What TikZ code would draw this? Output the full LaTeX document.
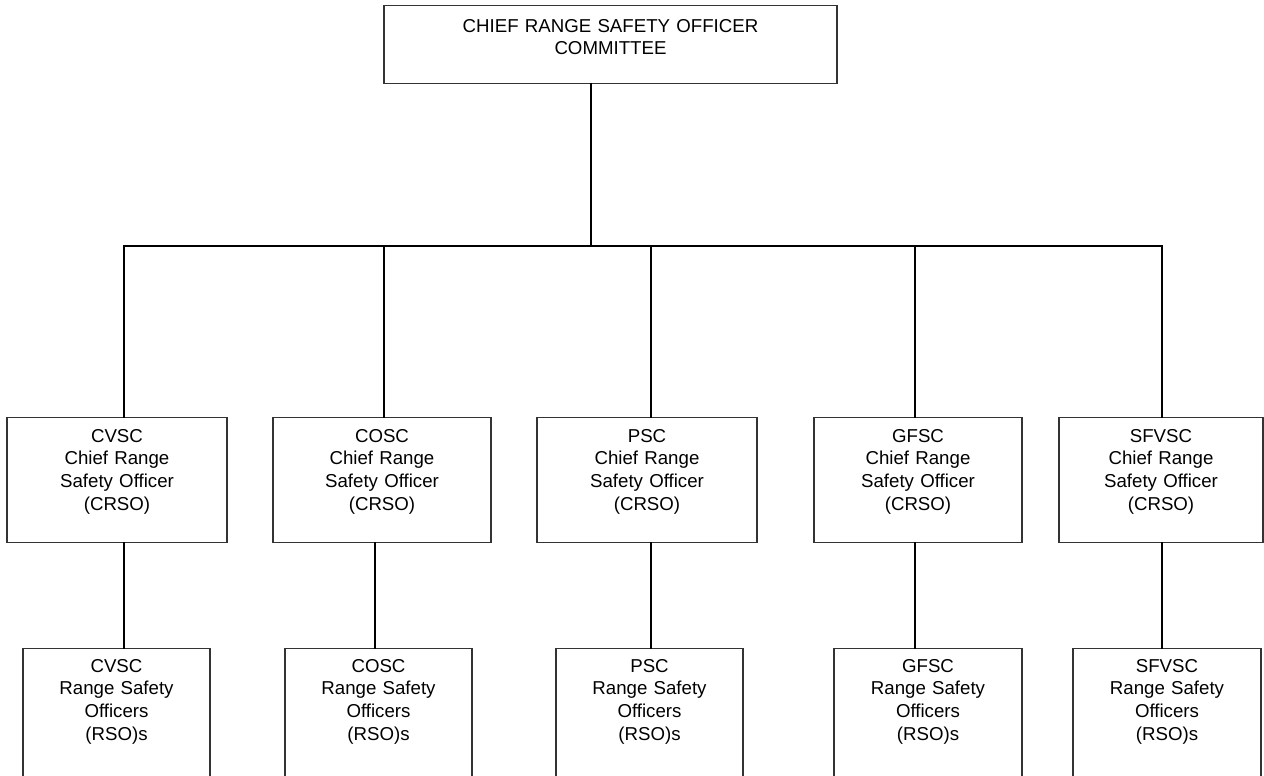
\documentclass[tikz,border=0pt]{standalone}
\usepackage{fontspec}
\setmainfont{Liberation Sans}
\tikzset{
  orgbox/.style={draw=black!80, line width=0.8pt, anchor=north, align=center, inner sep=2pt, font=\fontsize{14}{17}\selectfont},
  chiefbox/.style={orgbox, text width=320pt, minimum width=339.75pt, minimum height=58.5pt, execute at end node={\par\vspace*{11.3pt}}},
  crsobox/.style={orgbox, text width=130pt, minimum width=#1, minimum height=93.75pt, execute at end node={\par\vspace*{12.5pt}}},
  rsobox/.style={orgbox, text width=130pt, minimum width=#1, minimum height=114pt, execute at end node={\par\vspace*{34.4pt}}},
  link/.style={line width=1.5pt, line cap=rect},
}
\begin{document}
\begin{tikzpicture}[x=0.75pt, y=-0.75pt]
			%%%%% START %%%%%
			\useasboundingbox (0,0) rectangle (1264,775);
			\clip (0,0) rectangle (1264,775);
			
			\node[chiefbox] (chief) at (610.5,5) {CHIEF RANGE SAFETY OFFICER\\COMMITTEE};
			
			\node[crsobox=165pt] (crso-cvsc) at (117,417) {CVSC\\Chief Range\\Safety Officer\\(CRSO)};
			\node[crsobox=163.5pt] (crso-cosc) at (382,417) {COSC\\Chief Range\\Safety Officer\\(CRSO)};
			\node[crsobox=165pt] (crso-psc) at (647,417) {PSC\\Chief Range\\Safety Officer\\(CRSO)};
			\node[crsobox=156pt] (crso-gfsc) at (918,417) {GFSC\\Chief Range\\Safety Officer\\(CRSO)};
			\node[crsobox=153pt] (crso-sfvsc) at (1161,417) {SFVSC\\Chief Range\\Safety Officer\\(CRSO)};
			
			\node[rsobox=140.25pt] (rso-cvsc) at (116.5,648) {CVSC\\Range Safety\\Officers\\(RSO)s};
			\node[rsobox=140.25pt] (rso-cosc) at (378.5,648) {COSC\\Range Safety\\Officers\\(RSO)s};
			\node[rsobox=140.25pt] (rso-psc) at (649.5,648) {PSC\\Range Safety\\Officers\\(RSO)s};
			\node[rsobox=141pt] (rso-gfsc) at (928,648) {GFSC\\Range Safety\\Officers\\(RSO)s};
			\node[rsobox=141pt] (rso-sfvsc) at (1167,648) {SFVSC\\Range Safety\\Officers\\(RSO)s};
			
			\coordinate (trunk) at (591,246);
			\coordinate (tap1) at (124,246);
			\coordinate (tap2) at (384,246);
			\coordinate (tap3) at (651,246);
			\coordinate (tap4) at (915,246);
			\coordinate (tap5) at (1162,246);
			
			\draw[link] (chief.south -| trunk) -- (trunk);
			\draw[link] (crso-cvsc.north -| tap1) -- (tap1) -- (tap5) -- (crso-sfvsc.north -| tap5);
			\draw[link] (tap2) -- (crso-cosc.north -| tap2);
			\draw[link] (tap3) -- (crso-psc.north -| tap3);
			\draw[link] (tap4) -- (crso-gfsc.north -| tap4);
			
			\draw[link] (crso-cvsc.south -| tap1) -- (rso-cvsc.north -| tap1);
			\draw[link] (crso-cosc.south -| 375,0) -- (rso-cosc.north -| 375,0);
			\draw[link] (crso-psc.south -| tap3) -- (rso-psc.north -| tap3);
			\draw[link] (crso-gfsc.south -| tap4) -- (rso-gfsc.north -| tap4);
			\draw[link] (crso-sfvsc.south -| tap5) -- (rso-sfvsc.north -| tap5);
			%%%%% END %%%%%
\end{tikzpicture}
\end{document}
